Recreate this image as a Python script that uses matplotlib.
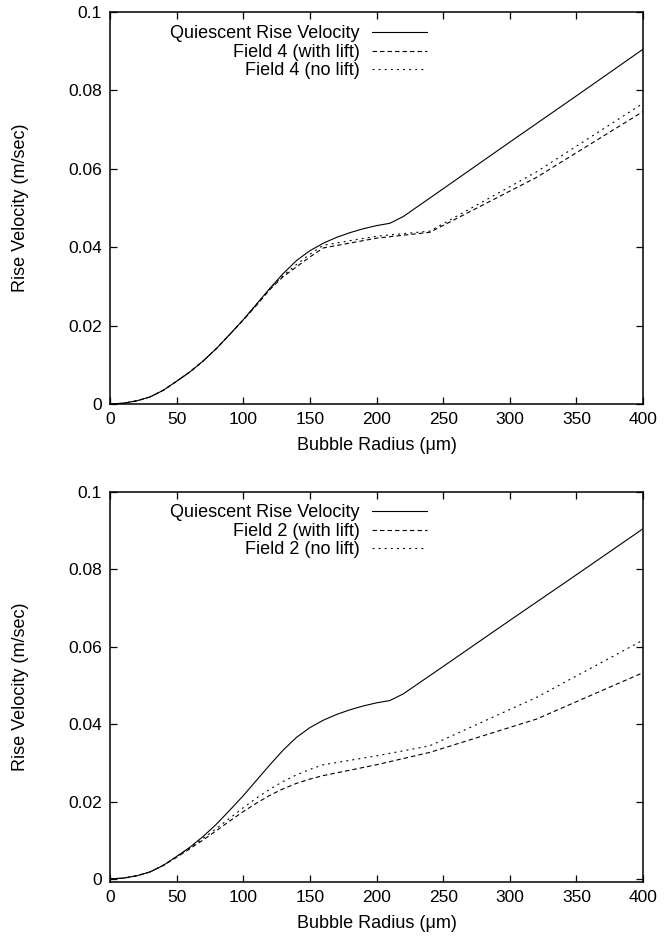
import matplotlib
matplotlib.use("Agg")
import matplotlib.pyplot as plt
import numpy as np

plt.rcParams['font.family'] = ['Liberation Sans', 'DejaVu Sans']
plt.rcParams['lines.scale_dashes'] = False

# Bubble radius (um) for each series
r_quiescent = [0, 10, 20, 30, 40, 50, 60, 70, 80, 90, 100, 110, 120, 130, 140,
               150, 160, 170, 180, 190, 200, 210, 220, 250, 300, 350, 400]
v_quiescent = [0, 0.0002, 0.0008, 0.0018, 0.0035, 0.0058, 0.0082, 0.0110, 0.0142,
               0.0178, 0.0215, 0.0255, 0.0295, 0.0333, 0.0366, 0.0391, 0.0410,
               0.0425, 0.0437, 0.0447, 0.0455, 0.0461, 0.0478, 0.0549, 0.0668,
               0.0786, 0.0905]

r_field = [0, 10, 20, 30, 40, 50, 60, 70, 80, 90, 100, 110, 120, 130, 140, 150,
           160, 200, 240, 320, 400]

# Field 4
v_f4_lift = [0, 0.0002, 0.0008, 0.0018, 0.0035, 0.0058, 0.0082, 0.0110, 0.0142,
             0.0178, 0.0214, 0.0252, 0.0292, 0.0325, 0.0350, 0.0375, 0.0398,
             0.0423, 0.0438, 0.0578, 0.0746]
v_f4_nolift = [0, 0.0002, 0.0008, 0.0018, 0.0035, 0.0058, 0.0082, 0.0110, 0.0142,
               0.0178, 0.0215, 0.0254, 0.0294, 0.0328, 0.0356, 0.0382, 0.0405,
               0.0428, 0.0441, 0.0592, 0.0767]

# Field 2
v_f2_lift = [0, 0.0002, 0.0008, 0.0018, 0.0035, 0.0056, 0.0078, 0.0101, 0.0125,
             0.0150, 0.0174, 0.0196, 0.0216, 0.0233, 0.0247, 0.0258, 0.0267,
             0.0295, 0.0327, 0.0413, 0.0533]
v_f2_nolift = [0, 0.0002, 0.0008, 0.0018, 0.0035, 0.0058, 0.0080, 0.0105, 0.0131,
               0.0157, 0.0184, 0.0209, 0.0232, 0.0252, 0.0269, 0.0283, 0.0295,
               0.0318, 0.0344, 0.0469, 0.0617]

x_ticks = [0, 50, 100, 150, 200, 250, 300, 350, 400]
y_ticks = [0, 0.02, 0.04, 0.06, 0.08, 0.1]
y_ticklabels = ['0', '0.02', '0.04', '0.06', '0.08', '0.1']

fig = plt.figure(figsize=(6.64, 9.47), dpi=100)
left = 110 / 664
width = 533 / 664
ax1 = fig.add_axes([left, 1 - 404 / 947, width, 392 / 947])
ax2 = fig.add_axes([left, 1 - 882 / 947, width, 390 / 947])

panels = [
    (ax1, v_f4_lift, v_f4_nolift, 'Field 4', (0, 0.1), 20),
    (ax2, v_f2_lift, v_f2_nolift, 'Field 2', (-0.0008, 0.1), 499),
]

FS = 13
for ax, vl, vn, name, ylim, legtop in panels:
    ax.plot(r_quiescent, v_quiescent, color='black', lw=0.8,
            label='Quiescent Rise Velocity')
    ax.plot(r_field, vl, color='black', lw=0.8, dashes=(3.2, 2.2),
            label=f'{name} (with lift)')
    ax.plot(r_field, vn, color='black', lw=0.8, dashes=(1.4, 3.0),
            label=f'{name} (no lift)')
    ax.set_xlim(0, 400)
    ax.set_ylim(*ylim)
    ax.set_xticks(x_ticks)
    ax.set_xticklabels([str(t) for t in x_ticks])
    ax.set_yticks(y_ticks)
    ax.set_yticklabels(y_ticklabels)
    ax.tick_params(direction='in', length=5, width=0.9, top=True, right=True,
                   labelsize=12.5, pad=6)
    for s in ax.spines.values():
        s.set_linewidth(1.1)
    ax.set_xlabel('Bubble Radius (\u03bcm)', fontsize=FS, labelpad=7)
    ax.set_ylabel('Rise Velocity (m/sec)', fontsize=FS)
    ax.yaxis.set_label_coords(-0.152, 0.5)
    leg = ax.legend(loc='upper right', bbox_to_anchor=(432 / 664, 1 - legtop / 947),
                    bbox_transform=fig.transFigure, frameon=False,
                    markerfirst=False, fontsize=FS, handlelength=3.0,
                    labelspacing=0.08, borderaxespad=0, borderpad=0.3,
                    handletextpad=0.7)
    for t in leg.get_texts():
        t.set_ha('right')

fig.savefig('out.png', dpi=100)
